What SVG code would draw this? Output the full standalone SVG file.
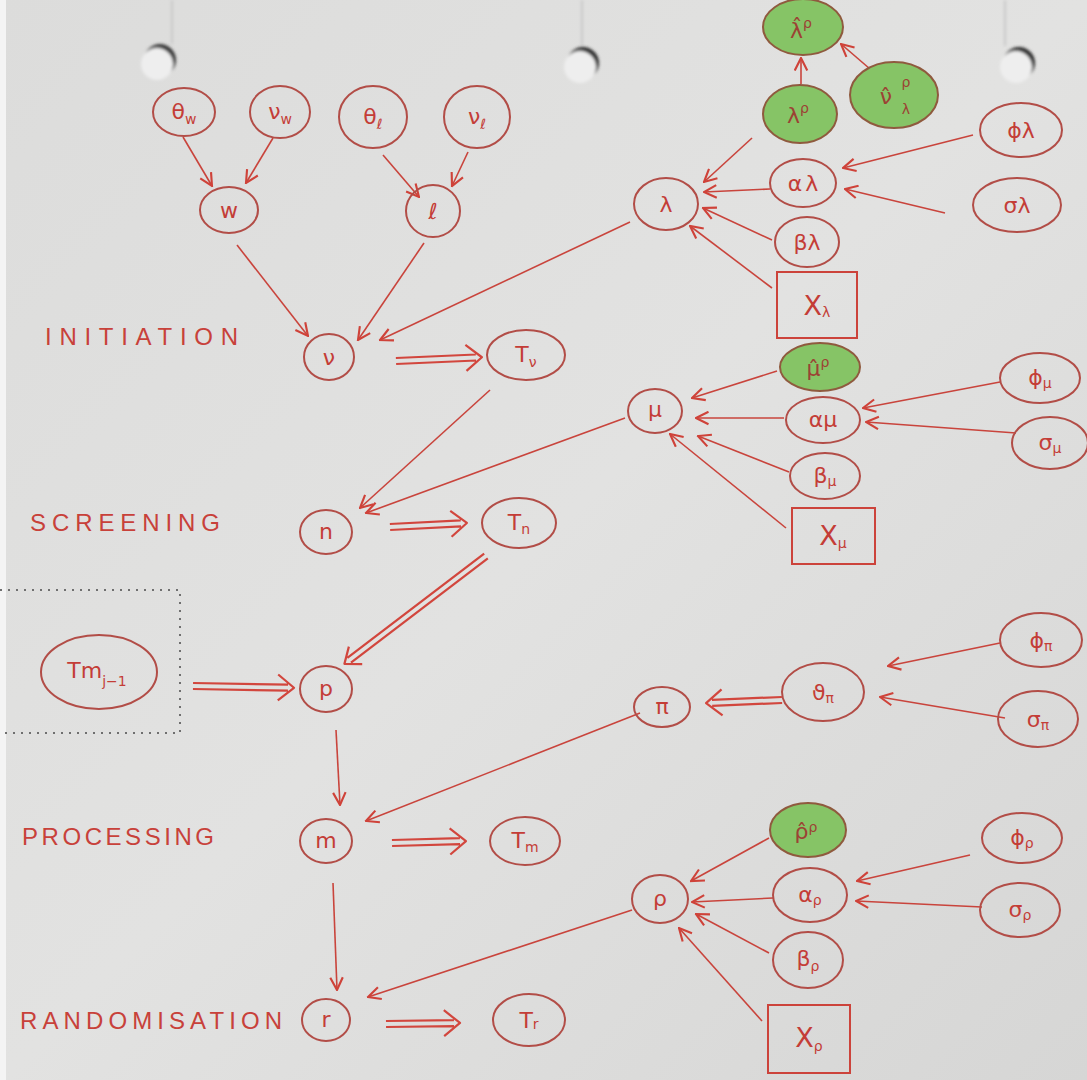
<svg xmlns="http://www.w3.org/2000/svg" width="1087" height="1080" viewBox="0 0 1087 1080">
  <defs>
    <linearGradient id="paper" x1="0" y1="0" x2="1" y2="1">
      <stop offset="0" stop-color="#dcdcdb"/>
      <stop offset="0.5" stop-color="#e2e2e1"/>
      <stop offset="1" stop-color="#d6d6d5"/>
    </linearGradient>
    <filter id="soft" x="-30%" y="-30%" width="160%" height="160%">
      <feGaussianBlur stdDeviation="1.6"/>
    </filter>
    <marker id="chev" viewBox="0 0 12 12" refX="11" refY="6" markerWidth="15" markerHeight="15" markerUnits="userSpaceOnUse" orient="auto">
      <path d="M1,1 L11,6 L1,11" fill="none" stroke="#cf4239" stroke-width="1.7"/>
    </marker>
    <style>
      .node ellipse { fill: none; stroke: #b24d47; stroke-width: 2; }
      .prior ellipse { fill: #86c466; stroke: #8f5a3e; }
      .obs rect { fill: none; stroke: #cc433b; stroke-width: 2; }
      .lbl { font-family: "DejaVu Sans", sans-serif; font-size: 22px; fill: #c43d37; text-anchor: middle; }
      .obs .lbl { font-size: 27px; }
      .prior .lbl { fill: #9c4234; }
      .sub { font-size: 14px; }
      .stage { font-family: "Liberation Sans", sans-serif; font-size: 24px; fill: #c8413a; }
      .edge { stroke: #c9443c; stroke-width: 1.6; fill: none; marker-end: url(#chev); }
      .dbl path { stroke: #d2463d; stroke-width: 2.2; fill: none; stroke-linejoin: round; }
    </style>
  </defs>

  <!-- paper sheet -->
  <rect width="1087" height="1080" fill="url(#paper)"/>
  <rect x="0" y="0" width="6" height="1080" fill="#f4f4f4"/>

  <!-- ring-binder shadows and punched holes -->
  <g id="holes">
    <path d="M172,0 V44 M582,0 V46 M1005,0 V46" stroke="#c8c8c8" stroke-width="2" filter="url(#soft)"/>
    <g filter="url(#soft)">
      <circle cx="160" cy="60" r="16" fill="#3a3a3a"/>
      <circle cx="157" cy="64" r="16" fill="#eeeeee"/>
      <circle cx="583" cy="63" r="16" fill="#2e2e2e"/>
      <circle cx="580" cy="67" r="16" fill="#eeeeee"/>
      <circle cx="1019" cy="63" r="16" fill="#2e2e2e"/>
      <circle cx="1016" cy="67" r="16" fill="#eeeeee"/>
    </g>
  </g>

  <!-- stage labels -->
  <g id="stages">
    <text class="stage" x="45" y="345" textLength="193" lengthAdjust="spacing">INITIATION</text>
    <text class="stage" x="30" y="531" textLength="190" lengthAdjust="spacing">SCREENING</text>
    <text class="stage" x="22" y="845" textLength="192" lengthAdjust="spacing">PROCESSING</text>
    <text class="stage" x="20" y="1029" textLength="262" lengthAdjust="spacing">RANDOMISATION</text>
  </g>

  <!-- dotted frame round the previous-stage node -->
  <path id="frame" d="M0,590 H180 V733 H0" fill="none" stroke="#6f6f6f" stroke-width="2" stroke-dasharray="2 6"/>

  <!-- connectors -->
  <g id="connectors">
    <path class="edge" d="M183,137 L212,186"/>
    <path class="edge" d="M273,138 L246,183"/>
    <path class="edge" d="M383,155 L419,197"/>
    <path class="edge" d="M468,152 L452,186"/>
    <path class="edge" d="M237,245 L308,336"/>
    <path class="edge" d="M424,243 L358,340"/>
    <path class="edge" d="M630,222 L380,340"/>
    <path class="edge" d="M801,84 L801,58"/>
    <path class="edge" d="M877,75 L841,44"/>
    <path class="edge" d="M752,138 L704,182"/>
    <path class="edge" d="M770,189 L704,192"/>
    <path class="edge" d="M973,135 L843,168"/>
    <path class="edge" d="M945,213 L845,189"/>
    <path class="edge" d="M772,240 L703,208"/>
    <path class="edge" d="M772,288 L690,226"/>
    <path class="edge" d="M490,390 L360,508"/>
    <path class="edge" d="M625,418 L366,513"/>
    <path class="edge" d="M777,371 L692,398"/>
    <path class="edge" d="M784,418 L696,418"/>
    <path class="edge" d="M789,472 L698,436"/>
    <path class="edge" d="M786,528 L670,434"/>
    <path class="edge" d="M1000,382 L863,408"/>
    <path class="edge" d="M1016,433 L866,422"/>
    <path class="edge" d="M336,730 L340,805"/>
    <path class="edge" d="M640,713 L366,821"/>
    <path class="edge" d="M1000,643 L888,666"/>
    <path class="edge" d="M1005,718 L880,697"/>
    <path class="edge" d="M333,883 L337,990"/>
    <path class="edge" d="M632,910 L368,997"/>
    <path class="edge" d="M769,838 L691,881"/>
    <path class="edge" d="M773,898 L692,902"/>
    <path class="edge" d="M769,953 L696,914"/>
    <path class="edge" d="M762,1021 L679,928"/>
    <path class="edge" d="M970,855 L857,881"/>
    <path class="edge" d="M982,907 L856,901"/>

    <!-- double-shafted arrows -->
    <g class="dbl">
      <g transform="translate(396,361) rotate(-2.5)"><path d="M0,-3 H80 M0,3 H80 M70,-13 L86,0 L70,13"/></g>
      <g transform="translate(390,527) rotate(-3)"><path d="M0,-3 H71 M0,3 H71 M61,-13 L77,0 L61,13"/></g>
      <g transform="translate(486,556) rotate(142.7)"><path d="M0,-3 H172 M0,3 H172 M164,-11 L178,0 L164,11"/></g>
      <g transform="translate(193,686) rotate(1)"><path d="M0,-3 H95 M0,3 H95 M85,-13 L101,0 L85,13"/></g>
      <g transform="translate(392,843) rotate(-1.5)"><path d="M0,-3 H68 M0,3 H68 M58,-13 L74,0 L58,13"/></g>
      <g transform="translate(386,1024) rotate(-0.8)"><path d="M0,-3 H68 M0,3 H68 M58,-13 L74,0 L58,13"/></g>
      <g transform="translate(782,700) rotate(177.7)"><path d="M0,-3 H70 M0,3 H70 M60,-13 L76,0 L60,13"/></g>
    </g>
  </g>

  <!-- initiation stage -->
  <g id="theta_w" class="node"><ellipse cx="184" cy="112" rx="31" ry="24"/><text class="lbl" x="184" y="119">θ<tspan class="sub" dy="5">w</tspan></text></g>
  <g id="nu_w" class="node"><ellipse cx="280" cy="112" rx="30" ry="26"/><text class="lbl" x="280" y="119">ν<tspan class="sub" dy="5">w</tspan></text></g>
  <g id="theta_l" class="node"><ellipse cx="373" cy="117" rx="34" ry="31"/><text class="lbl" x="373" y="124">θ<tspan class="sub" dy="5">ℓ</tspan></text></g>
  <g id="nu_l" class="node"><ellipse cx="477" cy="117" rx="33" ry="31"/><text class="lbl" x="477" y="124">ν<tspan class="sub" dy="5">ℓ</tspan></text></g>
  <g id="w" class="node"><ellipse cx="229" cy="210" rx="29" ry="23"/><text class="lbl" x="229" y="218">w</text></g>
  <g id="l" class="node"><ellipse cx="433" cy="211" rx="27" ry="26"/><text class="lbl" x="433" y="219">ℓ</text></g>
  <g id="nu" class="node"><ellipse cx="329" cy="357" rx="25" ry="23"/><text class="lbl" x="329" y="365">ν</text></g>
  <g id="T_nu" class="node"><ellipse cx="526" cy="355" rx="39" ry="25"/><text class="lbl" x="526" y="362">T<tspan class="sub" dy="5">ν</tspan></text></g>

  <!-- lambda hyper-parameters -->
  <g id="lambda" class="node"><ellipse cx="666" cy="204" rx="32" ry="26"/><text class="lbl" x="666" y="212">λ</text></g>
  <g id="lambda_hat_rho" class="node prior"><ellipse cx="803" cy="27" rx="40" ry="28"/><text class="lbl" x="801" y="38">λ̂<tspan class="sub" dy="-10">ρ</tspan></text></g>
  <g id="lambda_rho" class="node prior"><ellipse cx="800" cy="114" rx="37" ry="29"/><text class="lbl" x="798" y="123">λ<tspan class="sub" dy="-10">ρ</tspan></text></g>
  <g id="nu_hat_lambda_rho" class="node prior"><ellipse cx="894" cy="95" rx="44" ry="33"/><text class="lbl" x="886" y="104">ν̂</text><text class="lbl sub" x="906" y="87">ρ</text><text class="lbl sub" x="906" y="114">λ</text></g>
  <g id="alpha_lambda" class="node"><ellipse cx="803" cy="183" rx="33" ry="24"/><text class="lbl" x="803" y="191">α<tspan dx="3">λ</tspan></text></g>
  <g id="phi_lambda" class="node"><ellipse cx="1021" cy="130" rx="41" ry="27"/><text class="lbl" x="1021" y="138">ϕ<tspan>λ</tspan></text></g>
  <g id="sigma_lambda" class="node"><ellipse cx="1017" cy="205" rx="44" ry="27"/><text class="lbl" x="1017" y="213">σ<tspan>λ</tspan></text></g>
  <g id="beta_lambda" class="node"><ellipse cx="807" cy="242" rx="32" ry="25"/><text class="lbl" x="807" y="250">β<tspan>λ</tspan></text></g>
  <g id="X_lambda" class="node obs"><rect x="777" y="272" width="80" height="66"/><text class="lbl" x="817" y="315">X<tspan class="sub" font-size="20px" dy="2">λ</tspan></text></g>

  <!-- screening stage -->
  <g id="n" class="node"><ellipse cx="326" cy="532" rx="26" ry="22"/><text class="lbl" x="326" y="539">n</text></g>
  <g id="T_n" class="node"><ellipse cx="519" cy="523" rx="37" ry="25"/><text class="lbl" x="519" y="530">T<tspan class="sub" dy="4">n</tspan></text></g>

  <!-- mu hyper-parameters -->
  <g id="mu" class="node"><ellipse cx="655" cy="411" rx="27" ry="22"/><text class="lbl" x="655" y="417">μ</text></g>
  <g id="mu_hat_rho" class="node prior"><ellipse cx="820" cy="367" rx="40" ry="24"/><text class="lbl" x="818" y="376">μ̂<tspan class="sub" dy="-9">ρ</tspan></text></g>
  <g id="alpha_mu" class="node"><ellipse cx="823" cy="420" rx="37" ry="23"/><text class="lbl" x="823" y="427">α<tspan>μ</tspan></text></g>
  <g id="phi_mu" class="node"><ellipse cx="1040" cy="378" rx="40" ry="25"/><text class="lbl" x="1040" y="385">ϕ<tspan class="sub" dy="3">μ</tspan></text></g>
  <g id="sigma_mu" class="node"><ellipse cx="1050" cy="443" rx="38" ry="26"/><text class="lbl" x="1050" y="450">σ<tspan class="sub" dy="3">μ</tspan></text></g>
  <g id="beta_mu" class="node"><ellipse cx="825" cy="476" rx="35" ry="23"/><text class="lbl" x="825" y="483">β<tspan class="sub" dy="3">μ</tspan></text></g>
  <g id="X_mu" class="node obs"><rect x="792" y="508" width="83" height="56"/><text class="lbl" x="833" y="545">X<tspan class="sub" font-size="18px" dy="3">μ</tspan></text></g>

  <!-- processing stage -->
  <g id="Tm_prev" class="node"><ellipse cx="99" cy="672" rx="58" ry="37"/><text class="lbl" x="97" y="678">Tm<tspan class="sub" dy="8">j−1</tspan></text></g>
  <g id="p" class="node"><ellipse cx="326" cy="689" rx="26" ry="23"/><text class="lbl" x="326" y="696">p</text></g>
  <g id="m" class="node"><ellipse cx="326" cy="841" rx="26" ry="22"/><text class="lbl" x="326" y="848">m</text></g>
  <g id="T_m" class="node"><ellipse cx="525" cy="841" rx="35" ry="24"/><text class="lbl" x="525" y="848">T<tspan class="sub" dy="4">m</tspan></text></g>

  <!-- pi hyper-parameters -->
  <g id="pi" class="node"><ellipse cx="662" cy="707" rx="28" ry="20"/><text class="lbl" x="662" y="714">π</text></g>
  <g id="theta_pi" class="node"><ellipse cx="823" cy="692" rx="41" ry="29"/><text class="lbl" x="823" y="700">ϑ<tspan class="sub" dy="3">π</tspan></text></g>
  <g id="phi_pi" class="node"><ellipse cx="1041" cy="640" rx="41" ry="27"/><text class="lbl" x="1041" y="648">ϕ<tspan class="sub" dy="3">π</tspan></text></g>
  <g id="sigma_pi" class="node"><ellipse cx="1038" cy="719" rx="40" ry="28"/><text class="lbl" x="1038" y="727">σ<tspan class="sub" dy="3">π</tspan></text></g>

  <!-- randomisation stage -->
  <g id="r" class="node"><ellipse cx="326" cy="1020" rx="24" ry="21"/><text class="lbl" x="326" y="1027">r</text></g>
  <g id="T_r" class="node"><ellipse cx="529" cy="1020" rx="36" ry="26"/><text class="lbl" x="529" y="1028">T<tspan class="sub" dy="1">r</tspan></text></g>

  <!-- rho hyper-parameters -->
  <g id="rho" class="node"><ellipse cx="660" cy="899" rx="28" ry="24"/><text class="lbl" x="660" y="906">ρ</text></g>
  <g id="rho_hat_rho" class="node prior"><ellipse cx="808" cy="830" rx="38" ry="27"/><text class="lbl" x="806" y="839">ρ̂<tspan class="sub" dy="-7">ρ</tspan></text></g>
  <g id="alpha_rho" class="node"><ellipse cx="810" cy="895" rx="37" ry="27"/><text class="lbl" x="810" y="902">α<tspan class="sub" dy="3">ρ</tspan></text></g>
  <g id="phi_rho" class="node"><ellipse cx="1022" cy="838" rx="40" ry="25"/><text class="lbl" x="1022" y="845">ϕ<tspan class="sub" dy="3">ρ</tspan></text></g>
  <g id="sigma_rho" class="node"><ellipse cx="1020" cy="910" rx="40" ry="27"/><text class="lbl" x="1020" y="917">σ<tspan class="sub" dy="3">ρ</tspan></text></g>
  <g id="beta_rho" class="node"><ellipse cx="808" cy="960" rx="35" ry="28"/><text class="lbl" x="808" y="966">β<tspan class="sub" dy="5">ρ</tspan></text></g>
  <g id="X_rho" class="node obs"><rect x="768" y="1005" width="82" height="68"/><text class="lbl" x="809" y="1047">X<tspan class="sub" dy="4">ρ</tspan></text></g>
</svg>
